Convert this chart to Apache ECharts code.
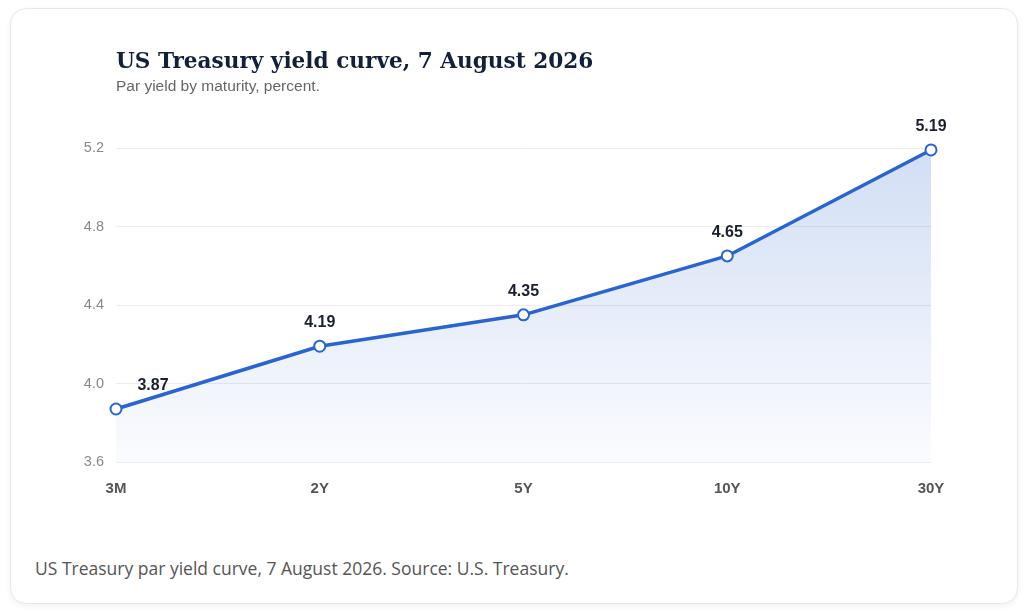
<!DOCTYPE html>
<html>
<head>
<meta charset="utf-8">
<title>US Treasury yield curve</title>
<script src="https://cdn.jsdelivr.net/npm/echarts@6/dist/echarts.min.js"></script>
<style>
  html, body { margin: 0; padding: 0; background: #fff; }
  body { width: 1024px; height: 612px; position: relative; overflow: hidden; }
  .card {
    position: absolute; left: 10px; top: 8px; width: 1006px; height: 594px;
    border: 1px solid #e6e8ec; border-radius: 16px; background: #fff;
    box-shadow: 0 2px 6px rgba(0,0,0,0.06);
  }
  #chart-container { position: absolute; left: 0; top: 0; width: 1024px; height: 540px; }
  .caption {
    position: absolute; left: 35px; top: 556px; margin: 0;
    font-family: "Open Sans", "Noto Sans", sans-serif; font-size: 17.5px; color: #555;
  }
</style>
</head>
<body>
<div class="card"></div>
<div id="chart-container"></div>
<p class="caption">US Treasury par yield curve, 7 August 2026. Source: U.S. Treasury.</p>
<script>
// maturities and par yields (percent)
var maturities = ['3M', '2Y', '5Y', '10Y', '30Y'];
var yields = [3.87, 4.19, 4.35, 4.65, 5.19];
var yTicks = [3.6, 4.0, 4.4, 4.8, 5.2];

var dom = document.getElementById('chart-container');
var myChart = echarts.init(dom, null, { renderer: 'canvas' });

var seriesData = yields.map(function (v, i) {
  if (i === 0) {
    return { value: v, label: { offset: [37, 0] } };
  }
  return v;
});

var option = {
  animation: false,
  title: {
    text: 'US Treasury yield curve, 7 August 2026',
    subtext: 'Par yield by maturity, percent.',
    left: 111,
    top: 46,
    itemGap: 6,
    textStyle: {
      fontFamily: 'DejaVu Serif',
      fontWeight: 'bold',
      fontSize: 21.6,
      color: '#12203a'
    },
    subtextStyle: {
      fontFamily: 'Liberation Sans',
      fontSize: 15.5,
      color: '#666'
    }
  },
  grid: { left: 116, right: 93, top: 148, bottom: 78 },
  xAxis: {
    type: 'category',
    data: maturities,
    boundaryGap: false,
    axisLine: { show: false },
    axisTick: { show: false },
    axisLabel: {
      margin: 19,
      fontFamily: 'Liberation Sans',
      fontWeight: 'bold',
      fontSize: 15,
      color: '#555'
    }
  },
  yAxis: {
    type: 'value',
    min: yTicks[0],
    max: yTicks[yTicks.length - 1],
    interval: 0.4,
    axisLine: { show: false },
    axisTick: { show: false },
    splitLine: { lineStyle: { color: '#ececef', width: 1 } },
    axisLabel: {
      margin: 12,
      fontFamily: 'Liberation Sans',
      fontSize: 14.5,
      color: '#888',
      formatter: function (v) { return v.toFixed(1); }
    }
  },
  series: [
    {
      type: 'line',
      data: seriesData,
      symbol: 'emptyCircle',
      symbolSize: 11,
      lineStyle: { color: '#2a64cf', width: 3.5 },
      itemStyle: { color: '#2a64cf', borderWidth: 3, borderColor: '#2a64cf' },
      label: {
        show: true,
        position: 'top',
        distance: 9,
        fontFamily: 'Liberation Sans',
        fontWeight: 'bold',
        fontSize: 16,
        color: '#1a1f2e',
        formatter: function (p) { return p.value.toFixed(2); }
      },
      areaStyle: {
        color: new echarts.graphic.LinearGradient(0, 0, 0, 1, [
          { offset: 0, color: 'rgba(42,100,207,0.30)' },
          { offset: 1, color: 'rgba(42,100,207,0.03)' }
        ])
      }
    }
  ]
};

myChart.setOption(option);
window.addEventListener('resize', myChart.resize);
</script>
</body>
</html>
